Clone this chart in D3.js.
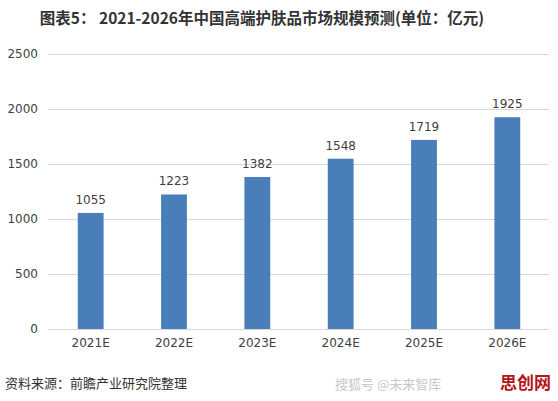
<!DOCTYPE html>
<html>
<head>
<meta charset="utf-8">
<script src="https://cdn.jsdelivr.net/npm/d3@7"></script>
<style>
  body { margin: 0; background: #fff; }
  svg { display: block; font-family: "Liberation Sans", "Noto Sans CJK SC", sans-serif; }
</style>
</head>
<body>
<script>
// chart data
const years = ["2021E", "2022E", "2023E", "2024E", "2025E", "2026E"];
const marketSize = [1055, 1223, 1382, 1548, 1719, 1925];
const yTicks = [0, 500, 1000, 1500, 2000, 2500];

const W = 558, H = 401;
const svg = d3.select("body").append("svg")
    .attr("width", W)
    .attr("height", H);

// title
svg.append("text")
    .attr("x", 262)
    .attr("y", 24)
    .attr("text-anchor", "middle")
    .attr("font-family", "Noto Sans CJK SC, sans-serif")
    .attr("font-weight", "bold")
    .attr("font-size", 15.5)
    .attr("fill", "#333")
    .text("图表5： 2021-2026年中国高端护肤品市场规模预测(单位：亿元)");

// scales
const x = d3.scaleBand()
    .domain(years)
    .range([49, 549])
    .paddingInner(0.69)
    .paddingOuter(0.345);

const y = d3.scaleLinear()
    .domain([0, 2500])
    .range([329, 54]);

// grid lines
svg.append("g")
    .selectAll("line")
    .data(yTicks)
    .join("line")
    .attr("x1", 48)
    .attr("x2", 549)
    .attr("y1", d => y(d) + 0.5)
    .attr("y2", d => y(d) + 0.5)
    .attr("stroke", "#d9d9d9")
    .attr("stroke-width", 1);

// y axis labels
const yAxis = svg.append("g")
    .attr("transform", "translate(38,0)")
    .call(d3.axisLeft(y).tickValues(yTicks).tickFormat(d3.format("d")).tickSize(0).tickPadding(0));
yAxis.select(".domain").remove();
yAxis.selectAll("text")
    .attr("font-size", 12)
    .attr("fill", "#404040")
    .attr("font-family", "DejaVu Sans, sans-serif");

// x axis labels
const xAxis = svg.append("g")
    .attr("transform", "translate(0,338)")
    .call(d3.axisBottom(x).tickSize(0).tickPadding(0));
xAxis.select(".domain").remove();
xAxis.selectAll("text")
    .attr("font-size", 12)
    .attr("fill", "#404040")
    .attr("font-family", "DejaVu Sans, sans-serif");

// bars
svg.append("g")
    .selectAll("rect")
    .data(marketSize)
    .join("rect")
    .attr("x", (d, i) => x(years[i]))
    .attr("y", d => y(d))
    .attr("width", x.bandwidth())
    .attr("height", d => y(0) - y(d))
    .attr("fill", "#4a7ebb");

// value labels
svg.append("g")
    .selectAll("text")
    .data(marketSize)
    .join("text")
    .attr("x", (d, i) => x(years[i]) + x.bandwidth() / 2)
    .attr("y", d => y(d) - 9)
    .attr("text-anchor", "middle")
    .attr("font-size", 12)
    .attr("fill", "#404040")
    .attr("font-family", "DejaVu Sans, sans-serif")
    .text(d => d);

// source note
svg.append("text")
    .attr("x", 5)
    .attr("y", 388)
    .attr("font-size", 13)
    .attr("fill", "#333")
    .attr("font-family", "Noto Sans CJK SC, sans-serif")
    .text("资料来源：前瞻产业研究院整理");

// bottom-right watermark
svg.append("text")
    .attr("x", 335)
    .attr("y", 389)
    .attr("font-size", 13)
    .attr("fill", "#c8c8c8")
    .attr("font-family", "Noto Sans CJK SC, sans-serif")
    .text("搜狐号 @未来智库");
svg.append("text")
    .attr("x", 500)
    .attr("y", 389)
    .attr("font-size", 17)
    .attr("font-weight", "bold")
    .attr("fill", "#b3151a")
    .attr("font-family", "Noto Sans CJK SC, sans-serif")
    .text("思创网");
</script>
</body>
</html>
